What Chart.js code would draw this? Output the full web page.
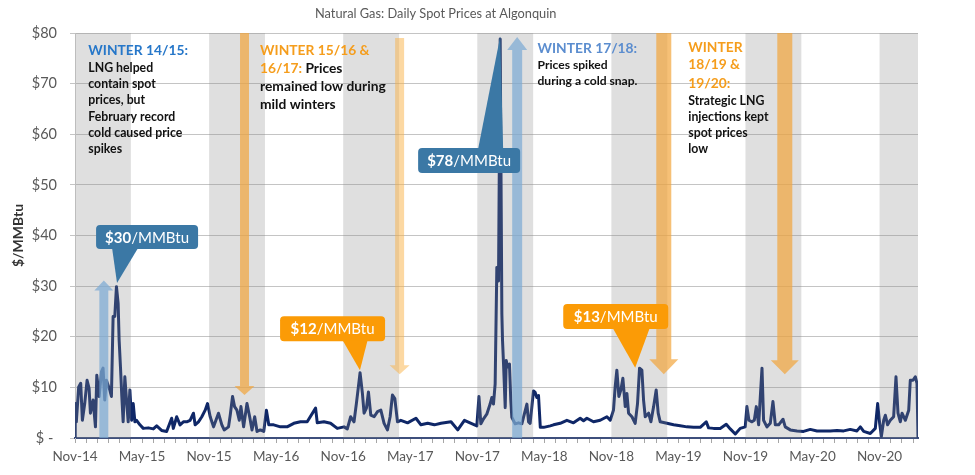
<!DOCTYPE html>
<html>
<head>
<meta charset="utf-8">
<title>Natural Gas: Daily Spot Prices at Algonquin</title>
<script src="https://cdn.jsdelivr.net/npm/chart.js"></script>
<style>
  html, body { margin: 0; padding: 0; background: #fff; }
</style>
</head>
<body>
<canvas id="gasChart" width="975" height="475"></canvas>
<script>
// x = months since Nov 2014 (0 = Nov-14), y = $/MMBtu
const months = [
  0, 0.02, 0.12, 0.33, 0.51, 0.66, 0.87, 1.08, 1.26, 1.38, 1.62, 1.83, 1.95, 2.16, 2.37, 2.51,
  2.66, 2.81, 3.11, 3.26, 3.41, 3.56, 3.71, 3.86, 3.95, 4.07, 4.19, 4.31, 4.46, 4.61, 4.76, 4.91,
  5.06, 5.21, 5.36, 5.51, 5.81, 6.11, 6.56, 7.01, 7.31, 7.75, 8.20, 8.65, 8.80, 9.10, 9.40, 9.70,
  10.00, 10.30, 10.60, 10.75, 11.05, 11.35, 11.65, 11.86, 12.10, 12.40, 12.84, 13.14, 13.35, 13.74,
  13.89, 14.10, 14.28, 14.49, 14.70, 14.85, 15.09, 15.39, 15.63, 15.84, 16.08, 16.29, 16.59, 16.89,
  17.13, 17.34, 17.78, 18.38, 18.98, 19.58, 20.18, 20.78, 21.53, 21.68, 22.28, 22.87, 23.47, 24.07,
  24.37, 24.67, 24.97, 25.18, 25.36, 25.51, 25.72, 25.87, 26.08, 26.26, 26.47, 26.77, 27.07, 27.37,
  27.66, 27.96, 28.20, 28.41, 28.62, 28.86, 29.16, 29.76, 30.51, 30.96, 31.56, 32.16, 32.75, 33.65,
  34.25, 34.85, 35.45, 35.96, 36.15, 36.32, 36.56, 36.85, 37.15, 37.30, 37.45, 37.60, 37.75, 37.90,
  38.05, 38.20, 38.26, 38.35, 38.50, 38.59, 38.71, 38.88, 39.00, 39.09, 39.39, 39.69, 39.99, 40.14,
  40.44, 40.59, 40.73, 41.03, 41.18, 41.33, 41.48, 41.64, 41.94, 42.53, 42.82, 43.42, 44.02, 44.61,
  45.21, 45.51, 45.81, 46.40, 47.00, 47.60, 47.90, 48.19, 48.34, 48.49, 48.67, 48.85, 49.03, 49.24,
  49.39, 49.54, 49.84, 50.13, 50.34, 50.52, 50.73, 50.88, 51.03, 51.33, 51.54, 51.78, 52.01, 52.19,
  52.37, 52.97, 53.57, 54.16, 54.76, 55.36, 55.95, 56.49, 56.70, 57.15, 57.74, 58.28, 58.64, 59.09,
  59.53, 59.98, 60.13, 60.31, 60.58, 60.79, 60.97, 61.18, 61.48, 61.62, 61.92, 62.22, 62.46, 62.67,
  62.97, 63.36, 63.56, 64.01, 64.61, 65.20, 65.80, 66.40, 67.00, 67.59, 68.19, 68.79, 69.38, 69.98,
  70.28, 70.58, 71.17, 71.62, 71.83, 72.01, 72.16, 72.37, 72.52, 72.72, 72.96, 73.26, 73.47, 73.65,
  73.86, 74.01, 74.31, 74.61, 74.75, 74.99, 75.20, 75.35, 75.44
];
const prices = [
  0, 6.8, 3.2, 10.1, 10.8, 3.5, 6.8, 11.4, 9.8, 4.9, 7.5, 2.2, 12.4, 8.2, 13.1, 13.8,
  7.5, 11.4, 9.5, 8.2, 24, 24, 29.9, 26.6, 19.3, 14, 8.2, 3.2, 12.1, 7.5, 3.2, 9.5,
  3.5, 6.8, 3.2, 3.5, 2.6, 1.9, 2.0, 1.8, 2.4, 1.5, 1.3, 3.9, 1.9, 4.2, 2.6, 3.2,
  3.2, 3.5, 4.9, 2.6, 3.2, 4.2, 5.5, 6.8, 4.2, 2.2, 4.9, 2.6, 1.6, 2.2,
  4.5, 8.2, 6.2, 5.5, 3.5, 6.2, 2.2, 6.8, 4.2, 1.6, 4.2, 1.3, 1.6, 1.3,
  5.5, 2.6, 2.6, 2.2, 2.2, 2.9, 3.2, 3.2, 5.9, 3.0, 3.2, 2.9, 1.9, 2.2,
  1.8, 4.2, 3.2, 6.8, 10.1, 12.9, 8.8, 4.9, 5.9, 9.1, 4.5, 4.2, 5.2, 5.5,
  2.9, 1.6, 4.2, 8.5, 7.8, 3.2, 3.5, 3.0, 3.9, 2.6, 2.9, 2.6, 2.9, 3.2,
  1.6, 3.5, 2.9, 2.4, 8.2, 2.8, 3.8, 4.7, 6.7, 8.0, 6.7, 10.7, 33.7, 31.0,
  78.8, 24.5, 19.2, 14.6, 6.0, 15.3, 14.0, 14.6, 7.4, 4.1, 2.8, 3.0, 2.8, 4.1,
  6.7, 3.2, 2.9, 9.3, 9.0, 8.0, 8.4, 2.1, 2.1, 2.4, 2.6, 2.9, 3.5, 3.0,
  3.9, 3.4, 3.9, 3.2, 3.5, 4.2, 3.5, 5.5, 10.1, 13.4, 8.2, 9.5, 11.8, 6.2,
  8.8, 4.9, 4.2, 2.9, 6.8, 13.8, 13.4, 7.5, 4.2, 4.9, 3.2, 6.2, 9.5, 4.9,
  3.2, 2.9, 2.6, 2.4, 2.2, 2.1, 2.1, 3.2, 2.0, 1.9, 1.9, 2.7, 1.8, 0.8,
  1.9, 2.2, 6.2, 3.5, 3.2, 3.5, 6.2, 2.6, 13.8, 3.5, 2.2, 2.9, 7.2, 2.6,
  2.6, 3.7, 2.2, 1.6, 1.4, 1.3, 1.7, 1.4, 1.4, 1.4, 1.5, 1.4, 1.7, 1.4,
  2.2, 1.3, 0.9, 1.9, 6.8, 2.9, 0.3, 3.5, 4.5, 2.6, 3.5, 4.2, 12.1, 4.9,
  3.2, 4.9, 3.5, 5.5, 11.4, 11.4, 12.1, 10.8, 0
];
const tickLabels = ['Nov-14', 'May-15', 'Nov-15', 'May-16', 'Nov-16', 'May-17', 'Nov-17',
                    'May-18', 'Nov-18', 'May-19', 'Nov-19', 'May-20', 'Nov-20'];
// winter months (Nov through Mar), in months since Nov 2014
const winterStarts = [0, 12, 24, 36, 48, 60, 72];
const winterEnds = [5, 17, 29, 41, 53, 65, 75.44];

const FONT = 'Lato, "Open Sans", sans-serif';
const GREY_TEXT = '#595959';
const NAVY = '#0f2767';
const BLUE_BOX = '#3b78a5';
const ORANGE_BOX = '#fb9b06';
const ORANGE_TEXT = '#f59d1c';

// annotation layer: arrows, callouts and notes placed in data units
const arrows = [
  { m: 2.58, from: 0, to: 31.1, shaft: 9, head: 19, headH: 10, color: 'rgba(122,170,212,0.7)' },
  { m: 39.57, from: 0, to: 79.2, shaft: 10, head: 20, headH: 13, color: 'rgba(122,170,212,0.7)' },
  { m: 15.17, from: 80, to: 8.5, shaft: 9, head: 20, headH: 9, color: 'rgba(242,165,60,0.7)' },
  { m: 29.05, from: 79, to: 12.6, shaft: 9, head: 20, headH: 9, color: 'rgba(250,178,70,0.5)' },
  { m: 52.69, from: 80, to: 12.6, shaft: 15, head: 29, headH: 15, color: 'rgba(242,165,60,0.7)' },
  { m: 63.52, from: 80, to: 12.6, shaft: 15, head: 28, headH: 14, color: 'rgba(242,165,60,0.7)' }
];
const callouts = [
  { bold: '$30', rest: '/MMBtu', m: 6.45, v: 39.7, w: 102, h: 24, tipM: 3.76, tipV: 30.6, baseL: -35, baseR: -9, color: BLUE_BOX },
  { bold: '$12', rest: '/MMBtu', m: 23.05, v: 21.6, w: 105, h: 25, tipM: 25.5, tipV: 13.4, baseL: 10, baseR: 35, color: ORANGE_BOX },
  { bold: '$78', rest: '/MMBtu', m: 35.27, v: 54.8, w: 102, h: 25, tipM: 38.05, tipV: 79.3, baseL: 9, baseR: 34, color: BLUE_BOX },
  { bold: '$13', rest: '/MMBtu', m: 48.39, v: 24.0, w: 105, h: 25, tipM: 50.13, tipV: 13.9, baseL: -3, baseR: 34, color: ORANGE_BOX }
];
const notes = [
  { m: 1.19, v: 76.6, dy: [0, 18.3, 34, 50, 66.7, 82.7, 99], lines: [
      [{ t: 'WINTER 14/15:', c: '#2677c9', s: 13.8 }],
      [{ t: 'LNG helped', s: 12.3 }],
      [{ t: 'contain spot', s: 12.3 }],
      [{ t: 'prices, but', s: 12.3 }],
      [{ t: 'February record', s: 12.3 }],
      [{ t: 'cold caused price', s: 12.3 }],
      [{ t: 'spikes', s: 12.3 }]
  ] },
  { m: 16.56, v: 76.6, dy: [0, 18.3, 36, 54], lines: [
      [{ t: 'WINTER 15/16 &', c: ORANGE_TEXT, s: 13.8 }],
      [{ t: '16/17: ', c: ORANGE_TEXT, s: 13.8 }, { t: 'Prices', s: 13.8 }],
      [{ t: 'remained low during', s: 13.8 }],
      [{ t: 'mild winters', s: 13.8 }]
  ] },
  { m: 41.39, v: 77.0, dy: [0, 16.7, 33.4], lines: [
      [{ t: 'WINTER 17/18:', c: '#5b8dcf', s: 13.8 }],
      [{ t: 'Prices spiked', s: 12.1 }],
      [{ t: 'during a cold snap.', s: 12.1 }]
  ] },
  { m: 54.88, v: 77.2, dy: [0, 17.7, 36, 53.4, 69.4, 85.4, 101.7], lines: [
      [{ t: 'WINTER', c: ORANGE_TEXT, s: 13.8 }],
      [{ t: '18/19 &', c: ORANGE_TEXT, s: 13.8 }],
      [{ t: '19/20:', c: ORANGE_TEXT, s: 13.8 }],
      [{ t: 'Strategic LNG', s: 12.3 }],
      [{ t: 'injections kept', s: 12.3 }],
      [{ t: 'spot prices', s: 12.3 }],
      [{ t: 'low', s: 12.3 }]
  ] }
];

function drawArrow(ctx, x, y1, y2, a) {
  const dir = y2 > y1 ? 1 : -1;
  const hb = y2 - dir * a.headH;
  ctx.fillStyle = a.color;
  ctx.beginPath();
  ctx.moveTo(x - a.shaft / 2, y1);
  ctx.lineTo(x + a.shaft / 2, y1);
  ctx.lineTo(x + a.shaft / 2, hb);
  ctx.lineTo(x + a.head / 2, hb);
  ctx.lineTo(x, y2);
  ctx.lineTo(x - a.head / 2, hb);
  ctx.lineTo(x - a.shaft / 2, hb);
  ctx.closePath();
  ctx.fill();
}

function drawCallout(ctx, xs, ys, c) {
  const cx = xs.getPixelForValue(c.m);
  const cy = ys.getPixelForValue(c.v);
  const tx = xs.getPixelForValue(c.tipM);
  const ty = ys.getPixelForValue(c.tipV);
  const left = cx - c.w / 2, top = cy - c.h / 2;
  const edge = ty < cy ? top + 1 : top + c.h - 1;
  ctx.fillStyle = c.color;
  ctx.beginPath();
  ctx.roundRect(left, top, c.w, c.h, 4);
  ctx.fill();
  ctx.beginPath();
  ctx.moveTo(cx + c.baseL, edge);
  ctx.lineTo(cx + c.baseR, edge);
  ctx.lineTo(tx, ty);
  ctx.closePath();
  ctx.fill();

  ctx.fillStyle = '#ffffff';
  ctx.textBaseline = 'middle';
  ctx.textAlign = 'left';
  ctx.font = 'bold 15px ' + FONT;
  const wb = ctx.measureText(c.bold).width;
  ctx.font = '15px ' + FONT;
  const wr = ctx.measureText(c.rest).width;
  let x = cx - (wb + wr) / 2;
  ctx.font = 'bold 15px ' + FONT;
  ctx.fillText(c.bold, x, cy + 1);
  ctx.font = '15px ' + FONT;
  ctx.fillText(c.rest, x + wb, cy + 1);
}

function drawNote(ctx, xs, ys, n) {
  const x0 = xs.getPixelForValue(n.m);
  const y0 = ys.getPixelForValue(n.v);
  ctx.textBaseline = 'middle';
  ctx.textAlign = 'left';
  n.lines.forEach(function (segs, i) {
    let x = x0;
    segs.forEach(function (seg) {
      ctx.font = 'bold ' + seg.s + 'px ' + FONT;
      ctx.fillStyle = seg.c || '#111111';
      ctx.fillText(seg.t, x, y0 + n.dy[i]);
      x += ctx.measureText(seg.t).width;
    });
  });
}

const overlayPlugin = {
  id: 'overlay',
  afterDatasetsDraw: function (chart) {
    const ctx = chart.ctx;
    const area = chart.chartArea;
    const xs = chart.scales.x, ys = chart.scales.y;
    ctx.save();
    // winter shading sits on top of the price line, like in the original
    ctx.fillStyle = 'rgba(140,140,140,0.28)';
    for (let i = 0; i < winterStarts.length; i++) {
      const a = xs.getPixelForValue(winterStarts[i]);
      const b = xs.getPixelForValue(winterEnds[i]);
      ctx.fillRect(a, area.top, b - a, area.bottom - area.top);
    }
    arrows.forEach(function (a) {
      drawArrow(ctx, xs.getPixelForValue(a.m), ys.getPixelForValue(a.from), ys.getPixelForValue(a.to), a);
    });
    callouts.forEach(function (c) { drawCallout(ctx, xs, ys, c); });
    notes.forEach(function (n) { drawNote(ctx, xs, ys, n); });

    // chart title
    ctx.font = '12.8px ' + FONT;
    ctx.fillStyle = GREY_TEXT;
    ctx.textAlign = 'left';
    ctx.textBaseline = 'middle';
    ctx.fillText('Natural Gas: Daily Spot Prices at Algonquin', 315, 14);
    ctx.restore();
  }
};

const points = months.map(function (m, i) { return { x: m, y: prices[i] }; });

const ctx = document.getElementById('gasChart').getContext('2d');
const gasChart = new Chart(ctx, {
  type: 'line',
  data: {
    datasets: [{
      label: 'Algonquin spot price',
      data: points,
      borderColor: NAVY,
      borderWidth: 3,
      borderJoinStyle: 'round',
      pointRadius: 0,
      tension: 0,
      fill: false
    }]
  },
  options: {
    responsive: false,
    animation: false,
    layout: { padding: { top: 33, right: 57, left: 0, bottom: 0 } },
    plugins: {
      legend: { display: false },
      tooltip: { enabled: false }
    },
    scales: {
      x: {
        type: 'linear',
        min: 0,
        max: 75.44,
        afterBuildTicks: function (scale) {
          const t = [];
          for (let i = 0; i <= 75; i++) t.push({ value: i });
          scale.ticks = t;
        },
        afterFit: function (scale) { scale.height = 37; },
        grid: { drawOnChartArea: false, drawTicks: true, tickLength: 5, color: '#a6a6a6' },
        border: { display: true, color: '#3e4f7c', width: 2 },
        ticks: {
          autoSkip: false,
          maxRotation: 0,
          padding: 6,
          color: GREY_TEXT,
          font: { family: FONT, size: 13.5 },
          callback: function (v) { return v % 6 === 0 ? tickLabels[v / 6] : ''; }
        }
      },
      y: {
        min: 0,
        max: 80,
        afterBuildTicks: function (scale) {
          const t = [];
          for (let v = 0; v <= 80; v += 10) t.push({ value: v });
          scale.ticks = t;
        },
        afterFit: function (scale) { scale.width = 75; },
        grid: { color: '#c4c4c4', tickLength: 5 },
        border: { display: true, color: '#d0d0d0' },
        title: {
          display: true,
          text: '$/MMBtu',
          color: '#333333',
          font: { family: FONT, size: 14, weight: 'bold' },
          padding: { top: 10, bottom: 0 }
        },
        ticks: {
          padding: 13,
          color: GREY_TEXT,
          font: { family: FONT, size: 14.5 },
          callback: function (v) { return v === 0 ? '$ - ' : '$' + v; }
        }
      }
    }
  },
  plugins: [overlayPlugin]
});
</script>
</body>
</html>
